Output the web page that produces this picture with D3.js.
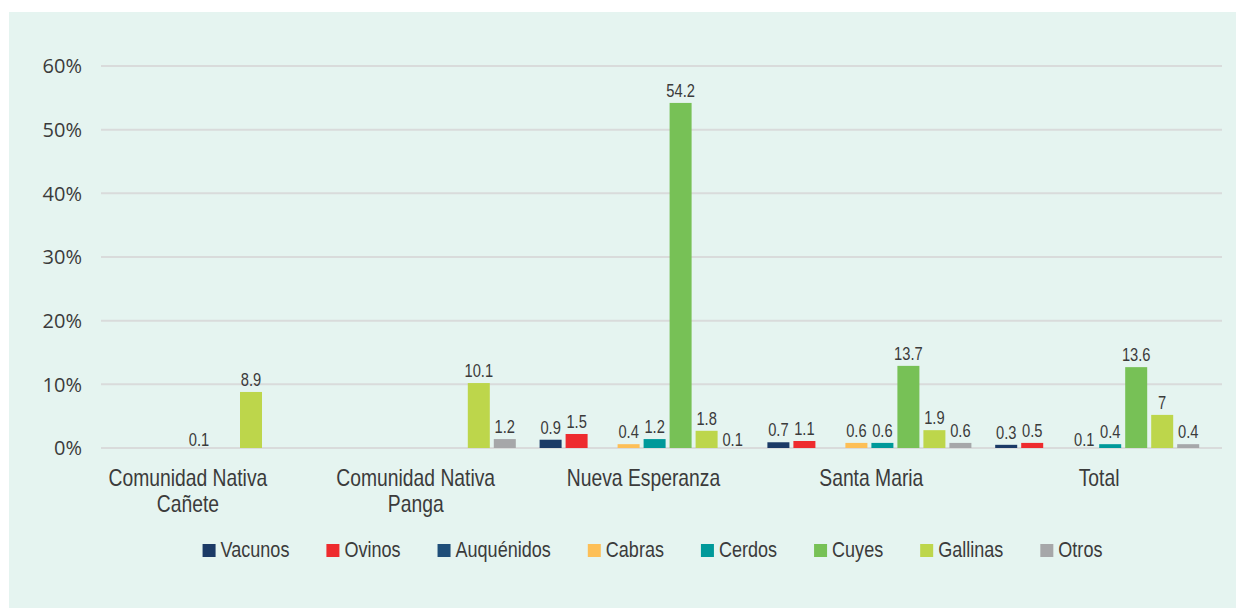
<!DOCTYPE html>
<html>
<head>
<meta charset="utf-8">
<script src="https://cdn.jsdelivr.net/npm/d3@7"></script>
<style>
  html, body { margin: 0; padding: 0; background: #ffffff; }
  svg { display: block; }
  .narrow { font-family: "Liberation Sans", Arial, sans-serif; }
</style>
</head>
<body>
<svg id="chart" width="1236" height="608"></svg>
<script>
// ---- Data ----
const categories = ["Comunidad Nativa Cañete", "Comunidad Nativa Panga", "Nueva Esperanza", "Santa Maria", "Total"];
const seriesNames = ["Vacunos", "Ovinos", "Auquénidos", "Cabras", "Cerdos", "Cuyes", "Gallinas", "Otros"];
const seriesColors = ["#1b3a66", "#ee2b2e", "#1f4e79", "#fdbf57", "#00999a", "#77c156", "#bdd64b", "#a6a7a9"];
// bar heights (percent) as drawn, one array per series, in category order
const vacunos    = [0,   0,    1.3,  0.9,  0.5];
const ovinos     = [0,   0,    2.2,  1.1,  0.8];
const auquenidos = [0,   0,    0,    0,    0];
const cabras     = [0,   0,    0.6,  0.8,  0];
const cerdos     = [0,   0,    1.4,  0.8,  0.6];
const cuyes      = [0,   0,    54.2, 12.9, 12.7];
const gallinas   = [8.8, 10.2, 2.7,  2.8,  5.2];
const otros      = [0,   1.4,  0,    0.8,  0.6];
// data labels as printed on the chart (null = no label)
const lblVacunos    = [null, null, "0.9", "0.7", "0.3"];
const lblOvinos     = [null, null, "1.5", "1.1", "0.5"];
const lblAuquenidos = [null, null, null, null, null];
const lblCabras     = [null, null, "0.4", "0.6", "0.1"];
const lblCerdos     = ["0.1", null, "1.2", "0.6", "0.4"];
const lblCuyes      = [null, null, "54.2", "13.7", "13.6"];
const lblGallinas   = ["8.9", "10.1", "1.8", "1.9", "7"];
const lblOtros      = [null, "1.2", "0.1", "0.6", "0.4"];
const yTicks = [0, 10, 20, 30, 40, 50, 60];

const seriesValues = [vacunos, ovinos, auquenidos, cabras, cerdos, cuyes, gallinas, otros];
const seriesLabels = [lblVacunos, lblOvinos, lblAuquenidos, lblCabras, lblCerdos, lblCuyes, lblGallinas, lblOtros];

// ---- Layout ----
const W = 1236, H = 608;
const SX = 0.84; // horizontal condensing to mimic a narrow face
const svg = d3.select("#chart");
const textColor = "#3b3b3b";

svg.append("rect").attr("x", 9).attr("y", 12).attr("width", W - 9).attr("height", H - 12).attr("fill", "#e5f4f0");

const gridX0 = 101, gridX1 = 1222;
const y = d3.scaleLinear().domain([0, 60]).range([448, 66]);
const x0 = d3.scaleBand().domain(categories).range([74, 1213]).padding(0);
const x1 = d3.scaleBand().domain(seriesNames).range([10, 214]).paddingInner(4 / 26).paddingOuter(0);

// gridlines
svg.append("g").selectAll("line").data(yTicks).join("line")
  .attr("x1", gridX0).attr("x2", gridX1)
  .attr("y1", d => y(d)).attr("y2", d => y(d))
  .attr("stroke", "#d9dbdb").attr("stroke-width", 2);

// y tick labels
svg.append("g").selectAll("text").data(yTicks).join("text")
  .attr("x", 82).attr("y", d => y(d)).attr("dy", "0.36em")
  .attr("text-anchor", "end")
  .attr("font-family", "'Open Sans', sans-serif").attr("font-size", 20)
  .attr("fill", textColor)
  .text(d => d + "%");

// bars
const flat = [];
categories.forEach((c, ci) => {
  seriesNames.forEach((s, si) => {
    flat.push({ cat: c, ser: s, si, v: seriesValues[si][ci], lbl: seriesLabels[si][ci] });
  });
});

svg.append("g").selectAll("rect").data(flat.filter(d => d.v > 0)).join("rect")
  .attr("x", d => x0(d.cat) + x1(d.ser))
  .attr("width", x1.bandwidth())
  .attr("y", d => y(d.v))
  .attr("height", d => y(0) - y(d.v))
  .attr("fill", d => seriesColors[d.si]);

// data labels
svg.append("g").attr("class", "narrow").selectAll("text").data(flat.filter(d => d.lbl !== null)).join("text")
  .attr("transform", d => `translate(${x0(d.cat) + x1(d.ser) + x1.bandwidth() / 2},${d.v > 0 ? y(d.v) - 6 : y(0) - 2}) scale(${SX},1)`)
  .attr("text-anchor", "middle")
  .attr("font-size", 17.5)
  .attr("fill", textColor)
  .text(d => d.lbl);

// category labels (wrapped)
const catG = svg.append("g").attr("class", "narrow");
categories.forEach(c => {
  const t = catG.append("text")
    .attr("transform", `translate(${x0(c) + x0.bandwidth() / 2},486) scale(${SX},1)`)
    .attr("text-anchor", "middle")
    .attr("font-size", 23)
    .attr("fill", textColor);
  const words = c.split(" ");
  let line = [];
  let tspan = t.append("tspan").attr("x", 0).attr("dy", 0);
  words.forEach(w => {
    line.push(w);
    tspan.text(line.join(" "));
    if (tspan.node().getComputedTextLength() * SX > 200 && line.length > 1) {
      line.pop();
      tspan.text(line.join(" "));
      line = [w];
      tspan = t.append("tspan").attr("x", 0).attr("dy", 26).text(w);
    }
  });
});

// legend
const legG = svg.append("g").attr("class", "narrow");
const items = seriesNames.map((s, i) => {
  const g = legG.append("g");
  g.append("rect").attr("width", 13).attr("height", 13).attr("y", -13).attr("fill", seriesColors[i]);
  const tx = g.append("text").attr("transform", `translate(18,0) scale(0.82,1)`)
    .attr("font-size", 22).attr("fill", textColor).text(s);
  return { g, w: 18 + tx.node().getComputedTextLength() * 0.82 };
});
const gap = 37;
const total = d3.sum(items, d => d.w) + gap * (items.length - 1);
let cx = 652.5 - total / 2;
items.forEach(it => {
  it.g.attr("transform", `translate(${cx},557)`);
  cx += it.w + gap;
});
</script>
</body>
</html>
